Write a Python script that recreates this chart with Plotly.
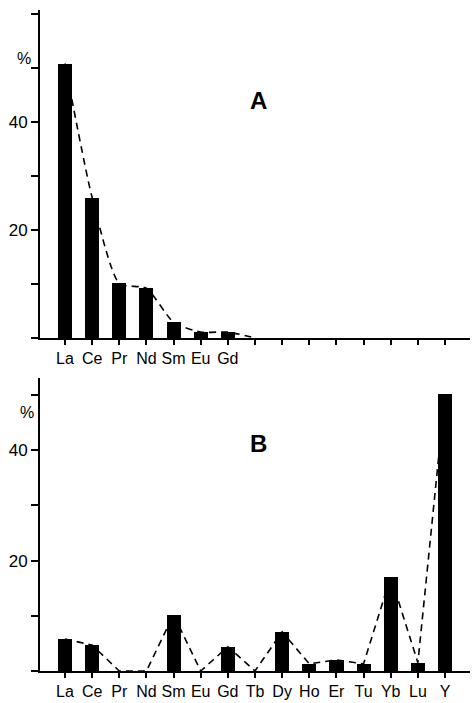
import plotly.graph_objects as go

elements = ["La", "Ce", "Pr", "Nd", "Sm", "Eu", "Gd", "Tb", "Dy", "Ho", "Er", "Tu", "Yb", "Lu", "Y"]
labels_a = ["La", "Ce", "Pr", "Nd", "Sm", "Eu", "Gd", "", "", "", "", "", "", "", ""]
labels_b = elements

values_a = [50.8, 26.0, 10.1, 9.2, 2.9, 1.1, 1.1, 0, 0, 0, 0, 0, 0, 0, 0]
trend_a = [50.8, 26.0, 10.1, 9.2, 2.9, 1.1, 1.1, 0, None, None, None, None, None, None, None]

values_b = [5.8, 4.7, 0, 0, 10.2, 0, 4.4, 0, 7.1, 1.3, 2.0, 1.3, 17.1, 1.5, 50.2]
trend_b = [5.8, 4.7, 0, 0, 10.2, 0, 4.4, 0, 7.1, 1.3, 2.0, 1.3, 17.1, 1.5, 50.2]

y_ticks = [0, 10, 20, 30, 40, 50, 60]
y_ticktext = ["", "", "20", "", "40", "", ""]

W, H = 473, 703
FONT = "Liberation Sans, Arial, Helvetica, sans-serif"

fig = go.Figure()

fig.add_trace(go.Scatter(x=elements, y=trend_a, mode="lines", xaxis="x", yaxis="y",
                         line=dict(color="black", width=1.6, dash="7px,5px", shape="spline", smoothing=0.6),
                         connectgaps=False, hoverinfo="skip"))
fig.add_trace(go.Bar(x=elements, y=values_a, xaxis="x", yaxis="y", width=0.52,
                     marker=dict(color="black", line=dict(width=0))))

fig.add_trace(go.Scatter(x=elements, y=trend_b, mode="lines", xaxis="x2", yaxis="y2",
                         line=dict(color="black", width=1.6, dash="7px,5px"), hoverinfo="skip"))
fig.add_trace(go.Bar(x=elements, y=values_b, xaxis="x2", yaxis="y2", width=0.52,
                     marker=dict(color="black", line=dict(width=0))))

xdom = [40 / W, 470 / W]
common_x = dict(showline=True, linecolor="black", linewidth=2, ticks="outside", ticklen=5,
                tickwidth=1.5, tickcolor="black", showgrid=False, zeroline=False,
                range=[-0.92, 14.92], domain=xdom, tickmode="array", tickvals=elements,
                tickangle=0, automargin=False,
                tickfont=dict(family=FONT, size=16, color="black"), fixedrange=True)
common_y = dict(showline=True, linecolor="black", linewidth=2, ticks="outside", ticklen=7,
                tickwidth=1.5, tickcolor="black", showgrid=False, zeroline=False,
                tickmode="array", tickvals=y_ticks, ticktext=y_ticktext, automargin=False,
                tickfont=dict(family=FONT, size=17, color="black"), fixedrange=True)

fig.update_layout(
    width=W, height=H,
    margin=dict(l=0, r=0, t=0, b=0),
    paper_bgcolor="white", plot_bgcolor="white",
    showlegend=False, bargap=0,
    xaxis=dict(**common_x, anchor="y", ticktext=labels_a),
    yaxis=dict(**common_y, anchor="x", range=[0, 60.7], domain=[1 - 338 / H, 1 - 10 / H]),
    xaxis2=dict(**common_x, anchor="y2", ticktext=labels_b),
    yaxis2=dict(**common_y, anchor="x2", range=[0, 53.1], domain=[1 - 671 / H, 1 - 378 / H]),
    annotations=[
        dict(text="<b>A</b>", x=258 / W, y=1 - 85 / H, xref="paper", yref="paper",
             showarrow=False, font=dict(family=FONT, size=24, color="black")),
        dict(text="<b>B</b>", x=258 / W, y=1 - 443 / H, xref="paper", yref="paper",
             showarrow=False, font=dict(family=FONT, size=24, color="black")),
        dict(text="%", x=15 / W, y=1 - 48 / H, xref="paper", yref="paper",
             showarrow=False, font=dict(family=FONT, size=16, color="black")),
        dict(text="%", x=18 / W, y=1 - 412 / H, xref="paper", yref="paper",
             showarrow=False, font=dict(family=FONT, size=16, color="black")),
    ],
)

fig.write_html("out.html", config={"displayModeBar": False},
               post_script="document.body.style.margin='0';")
